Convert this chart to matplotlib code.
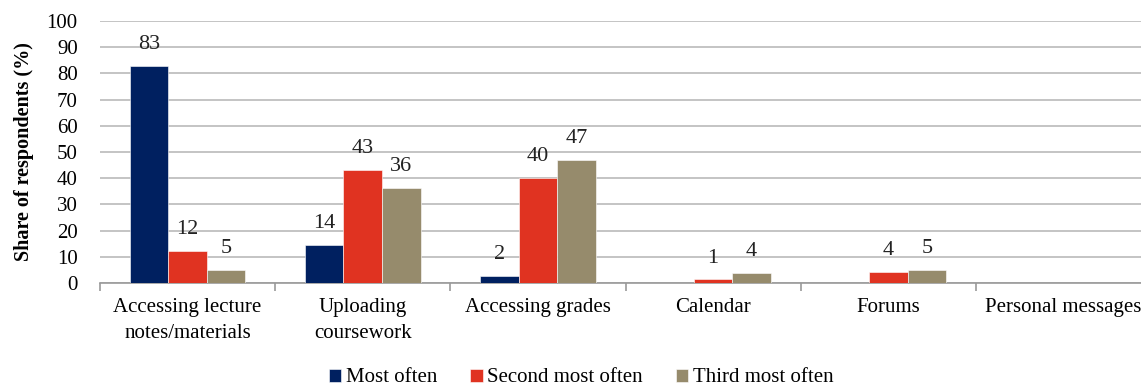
import numpy as np
import matplotlib.pyplot as plt

# data
categories = ['Accessing lecture\nnotes/materials', 'Uploading\ncoursework',
              'Accessing grades', 'Calendar', 'Forums', 'Personal messages']
series_names = ['Most often', 'Second most often', 'Third most often']
most_often = [83, 14.6, 2.6, 0, 0, 0]
second_often = [12.2, 43.3, 40, 1.4, 4.1, 0]
third_often = [5, 36.2, 47, 4, 4.9, 0]
most_labels = ['83', '14', '2', '', '', '']
second_labels = ['12', '43', '40', '1', '4', '']
third_labels = ['5', '36', '47', '4', '5', '']
colors = ['#002060', '#E03321', '#968B6C']

plt.rcParams['font.family'] = ['Liberation Serif', 'DejaVu Serif']

fig = plt.figure(figsize=(11.41, 3.87), dpi=100)
# axes run slightly past the right edge, as in the original export
ax = fig.add_axes([100 / 1141, 104 / 387, 1051 / 1141, 262 / 387])

x = np.arange(len(categories))
w = 0.22
all_vals = [most_often, second_often, third_often]
all_labels = [most_labels, second_labels, third_labels]
for i, (vals, labs) in enumerate(zip(all_vals, all_labels)):
    pos = x + (i - 1) * w
    bars = ax.bar(pos, vals, w, color=colors[i], edgecolor='white',
                  linewidth=0.4, label=series_names[i], zorder=3)
    for b, lab in zip(bars, labs):
        if lab:
            ax.text(b.get_x() + b.get_width() / 2, b.get_height() + 4.5, lab,
                    ha='center', va='bottom', fontsize=16, color='#222222')

ax.set_ylim(0, 100)
ax.set_xlim(-0.5, len(categories) - 0.5)
ax.set_yticks(np.arange(0, 101, 10))
ax.yaxis.grid(True, color='#c4c4c4', linewidth=1.4, zorder=0)
ax.tick_params(axis='y', length=0, pad=16, labelsize=15)

ax.set_xticks(x)
ax.set_xticklabels(categories, fontsize=15, linespacing=1.5)
ax.tick_params(axis='x', which='major', length=0, pad=11)
ax.set_xticks(np.arange(-0.5, len(categories), 1), minor=True)
ax.tick_params(axis='x', which='minor', length=6, width=1.2, color='#999999')

for s in ['top', 'right', 'left']:
    ax.spines[s].set_visible(False)
ax.spines['bottom'].set_color('#999999')
ax.spines['bottom'].set_linewidth(1.2)

ax.set_ylabel('Share of respondents (%)', fontsize=14.5, fontweight='bold', labelpad=9)

fig.legend(loc='center', bbox_to_anchor=(581 / 1141, 9 / 387), ncol=3,
           frameon=False, fontsize=15, handlelength=0.6, handleheight=0.6,
           handletextpad=0.2, columnspacing=1.6)

fig.savefig('out.png', dpi=100)
